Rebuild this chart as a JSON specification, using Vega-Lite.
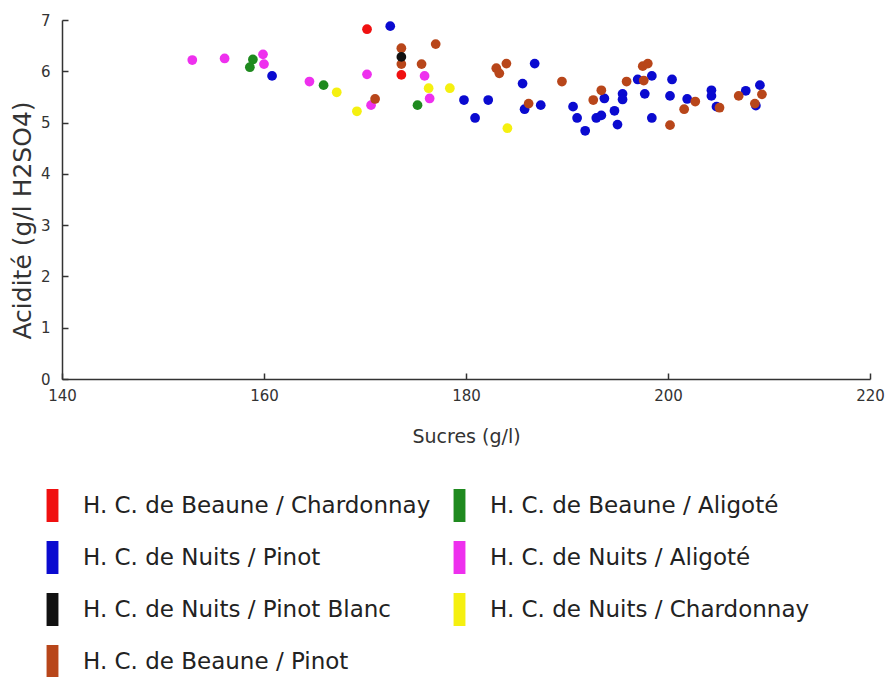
{
  "$schema": "https://vega.github.io/schema/vega-lite/v6.json",
  "autosize": "none",
  "width": 808,
  "height": 359,
  "padding": {"left": 62, "top": 20, "right": 17, "bottom": 298},
  "background": "white",
  "config": {
    "view": {"stroke": null},
    "font": "DejaVu Sans"
  },
  "data": {
    "values": [
      {"s": 152.9, "a": 6.22, "g": "H. C. de Nuits / Aligoté"},
      {"s": 156.1, "a": 6.25, "g": "H. C. de Nuits / Aligoté"},
      {"s": 159.9, "a": 6.33, "g": "H. C. de Nuits / Aligoté"},
      {"s": 160.0, "a": 6.14, "g": "H. C. de Nuits / Aligoté"},
      {"s": 164.5, "a": 5.80, "g": "H. C. de Nuits / Aligoté"},
      {"s": 170.2, "a": 5.94, "g": "H. C. de Nuits / Aligoté"},
      {"s": 175.9, "a": 5.91, "g": "H. C. de Nuits / Aligoté"},
      {"s": 170.6, "a": 5.34, "g": "H. C. de Nuits / Aligoté"},
      {"s": 176.4, "a": 5.47, "g": "H. C. de Nuits / Aligoté"},
      {"s": 158.9, "a": 6.23, "g": "H. C. de Beaune / Aligoté"},
      {"s": 158.6, "a": 6.08, "g": "H. C. de Beaune / Aligoté"},
      {"s": 165.9, "a": 5.73, "g": "H. C. de Beaune / Aligoté"},
      {"s": 175.2, "a": 5.34, "g": "H. C. de Beaune / Aligoté"},
      {"s": 160.8, "a": 5.91, "g": "H. C. de Nuits / Pinot"},
      {"s": 172.5, "a": 6.88, "g": "H. C. de Nuits / Pinot"},
      {"s": 179.8, "a": 5.44, "g": "H. C. de Nuits / Pinot"},
      {"s": 182.2, "a": 5.44, "g": "H. C. de Nuits / Pinot"},
      {"s": 180.9, "a": 5.09, "g": "H. C. de Nuits / Pinot"},
      {"s": 186.8, "a": 6.15, "g": "H. C. de Nuits / Pinot"},
      {"s": 185.6, "a": 5.76, "g": "H. C. de Nuits / Pinot"},
      {"s": 185.8, "a": 5.26, "g": "H. C. de Nuits / Pinot"},
      {"s": 187.4, "a": 5.34, "g": "H. C. de Nuits / Pinot"},
      {"s": 190.6, "a": 5.31, "g": "H. C. de Nuits / Pinot"},
      {"s": 191.0, "a": 5.09, "g": "H. C. de Nuits / Pinot"},
      {"s": 191.8, "a": 4.84, "g": "H. C. de Nuits / Pinot"},
      {"s": 193.7, "a": 5.47, "g": "H. C. de Nuits / Pinot"},
      {"s": 192.9, "a": 5.09, "g": "H. C. de Nuits / Pinot"},
      {"s": 193.4, "a": 5.14, "g": "H. C. de Nuits / Pinot"},
      {"s": 194.7, "a": 5.23, "g": "H. C. de Nuits / Pinot"},
      {"s": 195.0, "a": 4.96, "g": "H. C. de Nuits / Pinot"},
      {"s": 195.5, "a": 5.56, "g": "H. C. de Nuits / Pinot"},
      {"s": 195.5, "a": 5.45, "g": "H. C. de Nuits / Pinot"},
      {"s": 197.0, "a": 5.84, "g": "H. C. de Nuits / Pinot"},
      {"s": 197.7, "a": 5.56, "g": "H. C. de Nuits / Pinot"},
      {"s": 198.4, "a": 5.91, "g": "H. C. de Nuits / Pinot"},
      {"s": 200.4, "a": 5.84, "g": "H. C. de Nuits / Pinot"},
      {"s": 200.2, "a": 5.52, "g": "H. C. de Nuits / Pinot"},
      {"s": 198.4, "a": 5.09, "g": "H. C. de Nuits / Pinot"},
      {"s": 201.9, "a": 5.46, "g": "H. C. de Nuits / Pinot"},
      {"s": 204.3, "a": 5.63, "g": "H. C. de Nuits / Pinot"},
      {"s": 204.3, "a": 5.52, "g": "H. C. de Nuits / Pinot"},
      {"s": 204.8, "a": 5.31, "g": "H. C. de Nuits / Pinot"},
      {"s": 207.7, "a": 5.62, "g": "H. C. de Nuits / Pinot"},
      {"s": 209.1, "a": 5.73, "g": "H. C. de Nuits / Pinot"},
      {"s": 208.7, "a": 5.33, "g": "H. C. de Nuits / Pinot"},
      {"s": 170.2, "a": 6.82, "g": "H. C. de Beaune / Chardonnay"},
      {"s": 173.6, "a": 5.93, "g": "H. C. de Beaune / Chardonnay"},
      {"s": 167.2, "a": 5.59, "g": "H. C. de Nuits / Chardonnay"},
      {"s": 176.3, "a": 5.67, "g": "H. C. de Nuits / Chardonnay"},
      {"s": 178.4, "a": 5.67, "g": "H. C. de Nuits / Chardonnay"},
      {"s": 169.2, "a": 5.22, "g": "H. C. de Nuits / Chardonnay"},
      {"s": 184.1, "a": 4.89, "g": "H. C. de Nuits / Chardonnay"},
      {"s": 177.0, "a": 6.53, "g": "H. C. de Beaune / Pinot"},
      {"s": 173.6, "a": 6.45, "g": "H. C. de Beaune / Pinot"},
      {"s": 173.6, "a": 6.14, "g": "H. C. de Beaune / Pinot"},
      {"s": 175.6, "a": 6.14, "g": "H. C. de Beaune / Pinot"},
      {"s": 171.0, "a": 5.46, "g": "H. C. de Beaune / Pinot"},
      {"s": 184.0, "a": 6.15, "g": "H. C. de Beaune / Pinot"},
      {"s": 183.0, "a": 6.06, "g": "H. C. de Beaune / Pinot"},
      {"s": 183.3, "a": 5.96, "g": "H. C. de Beaune / Pinot"},
      {"s": 189.5, "a": 5.80, "g": "H. C. de Beaune / Pinot"},
      {"s": 186.2, "a": 5.37, "g": "H. C. de Beaune / Pinot"},
      {"s": 193.4, "a": 5.63, "g": "H. C. de Beaune / Pinot"},
      {"s": 192.6, "a": 5.44, "g": "H. C. de Beaune / Pinot"},
      {"s": 195.9, "a": 5.80, "g": "H. C. de Beaune / Pinot"},
      {"s": 197.5, "a": 6.10, "g": "H. C. de Beaune / Pinot"},
      {"s": 198.0, "a": 6.15, "g": "H. C. de Beaune / Pinot"},
      {"s": 197.6, "a": 5.82, "g": "H. C. de Beaune / Pinot"},
      {"s": 200.2, "a": 4.95, "g": "H. C. de Beaune / Pinot"},
      {"s": 202.7, "a": 5.41, "g": "H. C. de Beaune / Pinot"},
      {"s": 201.6, "a": 5.26, "g": "H. C. de Beaune / Pinot"},
      {"s": 205.1, "a": 5.29, "g": "H. C. de Beaune / Pinot"},
      {"s": 207.0, "a": 5.52, "g": "H. C. de Beaune / Pinot"},
      {"s": 209.3, "a": 5.55, "g": "H. C. de Beaune / Pinot"},
      {"s": 208.6, "a": 5.37, "g": "H. C. de Beaune / Pinot"},
      {"s": 173.6, "a": 6.28, "g": "H. C. de Nuits / Pinot Blanc"}
    ]
  },
  "mark": {"type": "circle", "size": 95, "opacity": 1},
  "encoding": {
    "x": {
      "field": "s", "type": "quantitative",
      "scale": {"domain": [140, 220], "nice": false, "zero": false},
      "axis": {
        "title": "Sucres (g/l)", "values": [140, 160, 180, 200, 220],
        "grid": false, "tickSize": -6, "labelPadding": 15, "labelFlush": false,
        "domainColor": "#333", "tickColor": "#333", "domainWidth": 1.5, "tickWidth": 1.5,
        "labelFont": "DejaVu Sans", "labelFontSize": 15, "labelColor": "#333",
        "titleFont": "DejaVu Sans", "titleFontSize": 19, "titleFontWeight": "normal", "titleColor": "#333",
        "titlePadding": 24
      }
    },
    "y": {
      "field": "a", "type": "quantitative",
      "scale": {"domain": [0, 7], "nice": false},
      "axis": {
        "title": "Acidité (g/l H2SO4)", "values": [0, 1, 2, 3, 4, 5, 6, 7],
        "grid": false, "tickSize": -6, "labelPadding": 18, "labelFlush": false,
        "domainColor": "#333", "tickColor": "#333", "domainWidth": 1.5, "tickWidth": 1.5,
        "labelFont": "DejaVu Sans", "labelFontSize": 15, "labelColor": "#333",
        "titleFont": "DejaVu Sans", "titleFontSize": 25, "titleFontWeight": "normal", "titleColor": "#333",
        "titlePadding": 5, "titleY": 200
      }
    },
    "color": {
      "field": "g", "type": "nominal",
      "scale": {
        "domain": [
          "H. C. de Beaune / Chardonnay", "H. C. de Nuits / Pinot",
          "H. C. de Nuits / Pinot Blanc", "H. C. de Beaune / Pinot",
          "H. C. de Beaune / Aligoté", "H. C. de Nuits / Aligoté",
          "H. C. de Nuits / Chardonnay"
        ],
        "range": ["#f01010", "#0a0ad0", "#111111", "#b8461a", "#1f8a1f", "#ee30ee", "#f5f010"]
      },
      "legend": {
        "title": null, "orient": "none", "legendX": -26, "legendY": 469,
        "columns": 2, "direction": "vertical",
        "symbolType": "M-0.36,-1L0.36,-1L0.36,1L-0.36,1Z",
        "symbolSize": 1089, "symbolStrokeWidth": 0, "symbolOpacity": 1,
        "labelFont": "DejaVu Sans", "labelFontSize": 23, "labelColor": "#222",
        "labelOffset": 14, "rowPadding": 19, "columnPadding": 12,
        "labelLimit": 500
      }
    }
  }
}
